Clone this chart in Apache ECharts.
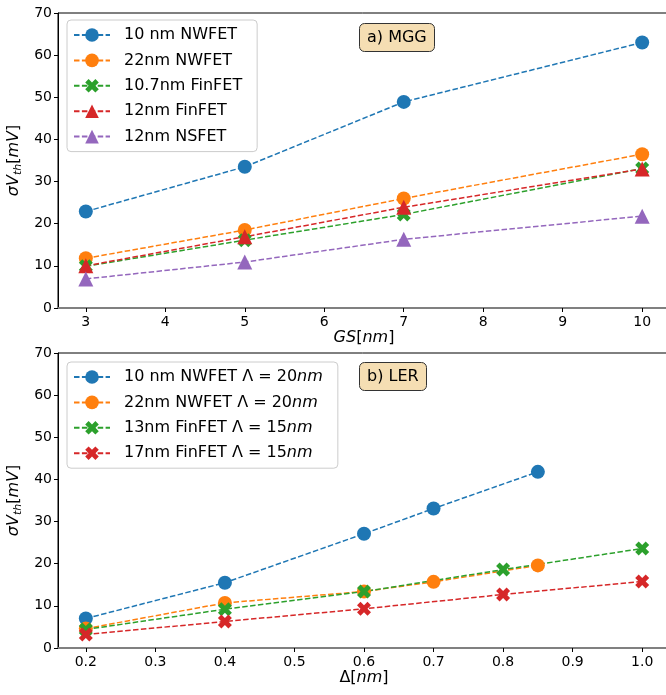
<!DOCTYPE html>
<html>
<head>
<meta charset="utf-8">
<script src="https://cdn.jsdelivr.net/npm/echarts@6/dist/echarts.min.js"></script>
<style>
  html, body { margin: 0; padding: 0; background: #fff; }
  #chart { width: 666px; height: 695px; }
</style>
</head>
<body>
<div id="chart"></div>
<script>
// panel a) MGG
const gsValues = [3, 5, 7, 10];
const gsTicks = [3, 4, 5, 6, 7, 8, 9, 10];
const mggNames = ['10 nm NWFET', '22nm NWFET', '10.7nm FinFET', '12nm FinFET', '12nm NSFET'];
const mgg10nmNW = [22.9, 33.5, 48.9, 63.0];
const mgg22nmNW = [11.8, 18.5, 26.0, 36.5];
const mgg107Fin = [9.9, 16.1, 22.2, 33.1];
const mgg12Fin = [10.0, 16.9, 23.9, 33.0];
const mgg12NS = [6.9, 10.9, 16.3, 21.8];

// panel b) LER
const lerTicks = [0.2, 0.3, 0.4, 0.5, 0.6, 0.7, 0.8, 0.9, 1.0];
const ler10nmX = [0.2, 0.4, 0.6, 0.7, 0.85];
const ler10nmNW = [7.0, 15.5, 27.1, 33.1, 41.8];
const ler22nmX = [0.2, 0.4, 0.6, 0.7, 0.85];
const ler22nmNW = [4.6, 10.7, 13.4, 15.7, 19.6];
const ler13nmX = [0.2, 0.4, 0.6, 0.8, 1.0];
const ler13Fin = [4.4, 9.2, 13.4, 18.6, 23.6];
const ler17nmX = [0.2, 0.4, 0.6, 0.8, 1.0];
const ler17Fin = [3.2, 6.3, 9.3, 12.7, 15.8];
const lerNames = [
  '10 nm NWFET \u039B = 20{i|nm}',
  '22nm NWFET \u039B = 20{i|nm}',
  '13nm FinFET \u039B = 15{i|nm}',
  '17nm FinFET \u039B = 15{i|nm}'
];

const COLORS = ['#1f77b4', '#ff7f0e', '#2ca02c', '#d62728', '#9467bd'];
const FONT = 'DejaVu Sans';
const X_SYMBOL = 'path://M2 -4 L4 -2 L2 0 L4 2 L2 4 L0 2 L-2 4 L-4 2 L-2 0 L-4 -2 L-2 -4 L0 -2 Z';

function zip(xs, ys) {
  return xs.map((x, i) => [x, ys[i]]);
}

function lineSeries(name, idx, data, color, symbol, size) {
  return {
    name,
    type: 'line',
    xAxisIndex: idx,
    yAxisIndex: idx,
    data,
    symbol,
    symbolSize: size,
    showSymbol: true,
    animation: false,
    itemStyle: { color },
    lineStyle: { color, width: 1.5, type: [5.5, 2.4] },
    emphasis: { disabled: true }
  };
}

function xAxisOpt(idx, min, max, ticks, nameRich) {
  return {
    type: 'value',
    gridIndex: idx,
    min,
    max,
    splitLine: { show: false },
    axisLine: { onZero: false, lineStyle: { color: '#808080', width: 2 } },
    axisTick: { customValues: ticks, length: 4, lineStyle: { color: '#000' } },
    axisLabel: {
      customValues: ticks,
      color: '#000',
      fontFamily: FONT,
      fontSize: 14,
      margin: 7,
      formatter: v => (max < 2 ? v.toFixed(1) : String(v))
    },
    name: nameRich,
    nameLocation: 'middle',
    nameGap: 21,
    nameTextStyle: {
      color: '#000',
      fontFamily: FONT,
      fontSize: 16,
      rich: {
        i: { fontFamily: FONT, fontSize: 16, fontStyle: 'italic', color: '#000' },
        n: { fontFamily: FONT, fontSize: 16, color: '#000' }
      }
    }
  };
}

function yAxisOpt(idx) {
  return {
    type: 'value',
    gridIndex: idx,
    min: 0,
    max: 70,
    interval: 10,
    splitLine: { show: false },
    axisLine: { show: true, lineStyle: { color: '#000', width: 1 } },
    axisTick: { show: true, length: 4, lineStyle: { color: '#000' } },
    axisLabel: { color: '#000', fontFamily: FONT, fontSize: 14, margin: 6 },
    name: '{i|\u03C3V}{s|th}{n|[}{i|mV}{n|]}',
    nameLocation: 'middle',
    nameRotate: 90,
    nameGap: 24,
    nameTextStyle: {
      color: '#000',
      fontFamily: FONT,
      fontSize: 16,
      rich: {
        i: { fontFamily: FONT, fontSize: 16, fontStyle: 'italic', color: '#000' },
        s: { fontFamily: FONT, fontSize: 11, fontStyle: 'italic', color: '#000', padding: [7, 0, 0, 0] },
        n: { fontFamily: FONT, fontSize: 16, color: '#000' }
      }
    }
  };
}

function legendOpt(idx, top, names) {
  return {
    gridIndex: idx,
    data: names,
    orient: 'vertical',
    left: 67,
    top,
    itemWidth: 36,
    itemHeight: 17,
    itemGap: 5.4,
    padding: [5, 15, 5, 6],
    backgroundColor: 'rgba(255,255,255,0.8)',
    borderColor: '#cccccc',
    borderWidth: 1,
    borderRadius: 4,
    textStyle: {
      color: '#000',
      fontFamily: FONT,
      fontSize: 16,
      lineHeight: 20,
      padding: [0, 0, 0, 9],
      rich: {
        i: { fontFamily: FONT, fontSize: 16, fontStyle: 'italic', color: '#000', lineHeight: 20 }
      }
    }
  };
}

function tagOpt(text, top) {
  return {
    text,
    left: 359,
    top,
    padding: [5, 8, 5, 8],
    backgroundColor: '#f5deb3',
    borderColor: '#333',
    borderWidth: 1,
    borderRadius: 5,
    textStyle: { color: '#000', fontFamily: FONT, fontSize: 16, fontWeight: 'normal', lineHeight: 19 }
  };
}

const chart = echarts.init(document.getElementById('chart'), null, { renderer: 'canvas' });

chart.setOption({
  backgroundColor: '#fff',
  animation: false,
  title: [tagOpt('a) MGG', 23), tagOpt('b) LER', 362)],
  grid: [
    { left: 58, top: 13, width: 612, height: 295, outerBoundsMode: 'none', show: true, borderColor: '#000', borderWidth: 1, backgroundColor: 'transparent' },
    { left: 58, top: 353, width: 612, height: 295, outerBoundsMode: 'none', show: true, borderColor: '#000', borderWidth: 1, backgroundColor: 'transparent' }
  ],
  legend: [legendOpt(0, 20, mggNames), legendOpt(1, 362, lerNames)],
  xAxis: [
    xAxisOpt(0, 2.65, 10.35, gsTicks, '{i|GS}{n|[}{i|nm}{n|]}'),
    xAxisOpt(1, 0.16, 1.04, lerTicks, '{n|\u0394[}{i|nm}{n|]}')
  ],
  yAxis: [yAxisOpt(0), yAxisOpt(1)],
  series: [
    lineSeries(mggNames[0], 0, zip(gsValues, mgg10nmNW), COLORS[0], 'circle', 14),
    lineSeries(mggNames[1], 0, zip(gsValues, mgg22nmNW), COLORS[1], 'circle', 14),
    lineSeries(mggNames[2], 0, zip(gsValues, mgg107Fin), COLORS[2], X_SYMBOL, 14),
    lineSeries(mggNames[3], 0, zip(gsValues, mgg12Fin), COLORS[3], 'triangle', 15),
    lineSeries(mggNames[4], 0, zip(gsValues, mgg12NS), COLORS[4], 'triangle', 15),
    lineSeries(lerNames[0], 1, zip(ler10nmX, ler10nmNW), COLORS[0], 'circle', 14),
    lineSeries(lerNames[1], 1, zip(ler22nmX, ler22nmNW), COLORS[1], 'circle', 14),
    lineSeries(lerNames[2], 1, zip(ler13nmX, ler13Fin), COLORS[2], X_SYMBOL, 14),
    lineSeries(lerNames[3], 1, zip(ler17nmX, ler17Fin), COLORS[3], X_SYMBOL, 14)
  ]
});
</script>
</body>
</html>
